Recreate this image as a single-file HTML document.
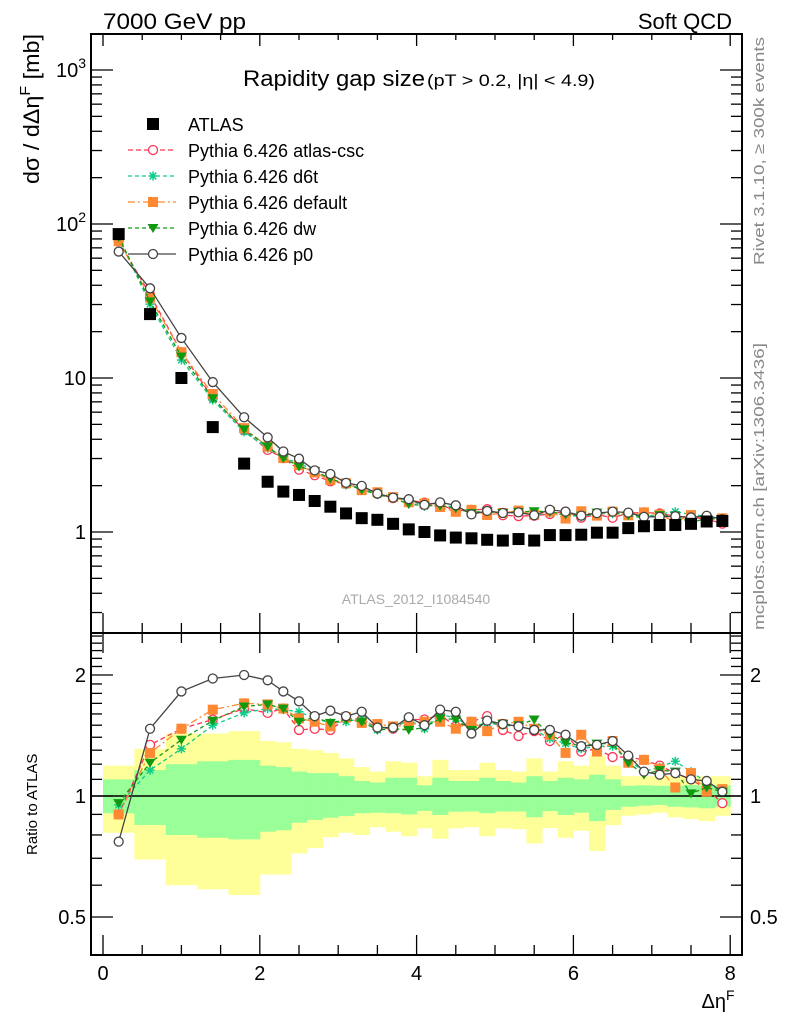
<!DOCTYPE html>
<html><head><meta charset="utf-8"><style>
html,body{margin:0;padding:0;background:#fff;}
svg{display:block;font-family:"Liberation Sans",sans-serif;}
</style></head><body>
<svg id="chart" width="786" height="1024" viewBox="0 0 786 1024" xmlns="http://www.w3.org/2000/svg">
<defs>
<clipPath id="clipMain"><rect x="91" y="34" width="651" height="599"/></clipPath>
<clipPath id="clipRatio"><rect x="91" y="633" width="651" height="322"/></clipPath>
</defs>
<g id="bands" clip-path="url(#clipRatio)"></g>
<line x1="91" y1="796" x2="742" y2="796" stroke="#000" stroke-width="1.5"/>
<g id="series"></g>
<g id="axes"></g>
<rect x="91" y="34" width="651" height="599" fill="none" stroke="#000" stroke-width="2"/>
<rect x="91" y="633" width="651" height="322" fill="none" stroke="#000" stroke-width="2"/>
<text x="103" y="29" font-size="22" textLength="143" lengthAdjust="spacingAndGlyphs">7000 GeV pp</text>
<text x="732" y="29" font-size="22" text-anchor="end">Soft QCD</text>
<text x="243" y="86" font-size="22" textLength="182" lengthAdjust="spacingAndGlyphs">Rapidity gap size</text>
<text x="427" y="86" font-size="17" textLength="168" lengthAdjust="spacingAndGlyphs">(pT &gt; 0.2, |η| &lt; 4.9)</text>
<text transform="translate(39,184) rotate(-90)" font-size="22" textLength="150" lengthAdjust="spacingAndGlyphs">dσ / dΔη<tspan font-size="15" dy="-9">F</tspan><tspan dy="9"> [mb]</tspan></text>
<text transform="translate(37,855) rotate(-90)" font-size="15">Ratio to ATLAS</text>
<text transform="translate(764,265) rotate(-90)" font-size="15" fill="#888" textLength="228" lengthAdjust="spacingAndGlyphs">Rivet 3.1.10, ≥ 300k events</text>
<text transform="translate(764,630) rotate(-90)" font-size="15" fill="#888" textLength="287" lengthAdjust="spacingAndGlyphs">mcplots.cern.ch [arXiv:1306.3436]</text>
<text x="416" y="604" font-size="14" fill="#aaa" text-anchor="middle">ATLAS_2012_I1084540</text>
<text x="718" y="1008" font-size="20" text-anchor="middle">Δη<tspan font-size="14" dy="-8">F</tspan></text>
<g id="legend"></g>
</svg>
<script>
// ---- data ----
const xCenters = [0.2,0.6,1.0,1.4,1.8,2.1,2.3,2.5,2.7,2.9,3.1,3.3,3.5,3.7,3.9,4.1,4.3,4.5,4.7,4.9,5.1,5.3,5.5,5.7,5.9,6.1,6.3,6.5,6.7,6.9,7.1,7.3,7.5,7.7,7.9];
const binLo = [0,0.4,0.8,1.2,1.6,2.0,2.2,2.4,2.6,2.8,3.0,3.2,3.4,3.6,3.8,4.0,4.2,4.4,4.6,4.8,5.0,5.2,5.4,5.6,5.8,6.0,6.2,6.4,6.6,6.8,7.0,7.2,7.4,7.6,7.8];
const binHi = [0.4,0.8,1.2,1.6,2.0,2.2,2.4,2.6,2.8,3.0,3.2,3.4,3.6,3.8,4.0,4.2,4.4,4.6,4.8,5.0,5.2,5.4,5.6,5.8,6.0,6.2,6.4,6.6,6.8,7.0,7.2,7.4,7.6,7.8,8.0];
const atlasValues = [86,26,10,4.8,2.78,2.12,1.83,1.74,1.59,1.46,1.32,1.23,1.20,1.13,1.04,1.0,0.95,0.92,0.91,0.89,0.88,0.90,0.88,0.955,0.955,0.96,0.99,0.99,1.06,1.09,1.11,1.11,1.13,1.17,1.18];
const ratioCsc = [0.90,1.34,1.47,1.55,1.65,1.61,1.65,1.46,1.47,1.46,1.56,1.55,1.48,1.47,1.55,1.55,1.59,1.49,1.53,1.58,1.46,1.41,1.45,1.37,1.42,1.29,1.31,1.25,1.25,1.23,1.19,1.14,1.10,1.04,0.96];
const ratioD6t = [0.95,1.16,1.31,1.50,1.61,1.65,1.64,1.62,1.56,1.52,1.53,1.56,1.46,1.47,1.55,1.47,1.60,1.56,1.49,1.52,1.50,1.49,1.46,1.39,1.35,1.31,1.33,1.33,1.23,1.15,1.18,1.22,1.15,1.08,1.025];
const ratioDefault = [0.90,1.28,1.47,1.64,1.70,1.69,1.65,1.56,1.53,1.49,1.57,1.52,1.51,1.49,1.50,1.53,1.53,1.47,1.53,1.45,1.51,1.53,1.47,1.42,1.28,1.42,1.29,1.37,1.21,1.23,1.17,1.05,1.14,1.025,1.04];
const ratioDw = [0.96,1.21,1.38,1.54,1.67,1.69,1.65,1.53,1.57,1.52,1.55,1.53,1.46,1.47,1.46,1.48,1.56,1.55,1.46,1.53,1.51,1.50,1.55,1.42,1.36,1.33,1.35,1.35,1.21,1.13,1.16,1.15,1.015,1.05,1.025];
const ratioP0 = [0.77,1.47,1.82,1.96,2.0,1.94,1.82,1.72,1.58,1.63,1.58,1.62,1.48,1.48,1.57,1.50,1.64,1.62,1.43,1.54,1.51,1.49,1.46,1.46,1.42,1.33,1.34,1.37,1.26,1.15,1.13,1.14,1.10,1.09,1.025];
const yellowHi = [1.19,1.31,1.43,1.43,1.45,1.37,1.36,1.31,1.30,1.28,1.24,1.18,1.15,1.22,1.21,1.12,1.23,1.16,1.16,1.21,1.16,1.15,1.24,1.15,1.22,1.19,1.26,1.19,1.12,1.12,1.12,1.12,1.12,1.12,1.12];
const yellowLo = [0.81,0.695,0.60,0.586,0.567,0.638,0.638,0.72,0.742,0.79,0.81,0.80,0.836,0.815,0.794,0.831,0.783,0.831,0.836,0.794,0.831,0.827,0.762,0.832,0.787,0.82,0.73,0.846,0.893,0.90,0.909,0.885,0.876,0.866,0.893];
const greenHi = [1.10,1.16,1.20,1.22,1.23,1.19,1.18,1.15,1.14,1.14,1.12,1.09,1.08,1.11,1.11,1.063,1.11,1.09,1.09,1.11,1.09,1.08,1.12,1.09,1.11,1.10,1.13,1.10,1.06,1.063,1.06,1.06,1.065,1.06,1.063];
const greenLo = [0.906,0.847,0.80,0.787,0.78,0.815,0.822,0.858,0.872,0.883,0.892,0.906,0.909,0.906,0.90,0.918,0.897,0.914,0.915,0.906,0.915,0.915,0.885,0.917,0.897,0.909,0.866,0.923,0.94,0.946,0.95,0.94,0.937,0.932,0.94];
const xTicksMajor = [0,2,4,6,8];
const mainTickLabels = ["1","10","10²","10³"];
const mainTickValues = [1,10,100,1000];
const ratioTickValues = [0.5,1,2];
const ratioTickLabels = ["0.5","1","2"];

// ---- scales ----
const X = v => 103 + 78.4*v;
const YM = v => 532 - 154*Math.log10(v);
const YR = r => 796 - 402*Math.log10(r);
const NS = "http://www.w3.org/2000/svg";
function mk(tag, attrs, parent){ const e=document.createElementNS(NS,tag); for(const k in attrs) e.setAttribute(k,attrs[k]); parent.appendChild(e); return e; }

// ---- bands ----
const bands = document.getElementById('bands');
for(let i=0;i<binLo.length;i++){
  const y = mk('rect',{x:X(binLo[i]),y:YR(yellowHi[i]),width:X(binHi[i])-X(binLo[i])+0.5,height:YR(yellowLo[i])-YR(yellowHi[i]),fill:'#ffff99'},bands);
  
  
}
for(let i=0;i<binLo.length;i++){
  const g = mk('rect',{x:X(binLo[i]),y:YR(greenHi[i]),width:X(binHi[i])-X(binLo[i])+0.5,height:YR(greenLo[i])-YR(greenHi[i]),fill:'#99ff99'},bands);
  
  
}

// ---- markers ----
function marker(type,color,cx,cy,parent){
  let e;
  if(type==='sqfill') e=mk('rect',{x:cx-5,y:cy-5,width:10,height:10,fill:color},parent);
  else if(type==='circ') e=mk('circle',{cx:cx,cy:cy,r:4.5,fill:'#fff',stroke:color,'stroke-width':1.3},parent);
  else if(type==='tri') e=mk('path',{d:`M${cx-5.5} ${cy-4}L${cx+5.5} ${cy-4}L${cx} ${cy+5}Z`,fill:color},parent);
  else if(type==='star') e=mk('path',{d:`M${cx-4.5} ${cy}H${cx+4.5}M${cx} ${cy-4.5}V${cy+4.5}M${cx-3.3} ${cy-3.3}L${cx+3.3} ${cy+3.3}M${cx-3.3} ${cy+3.3}L${cx+3.3} ${cy-3.3}`,stroke:color,'stroke-width':1.5,fill:'none'},parent);
  else if(type==='atlas') e=mk('rect',{x:cx-6,y:cy-6,width:12,height:12,fill:color},parent);
  return e;
}
const seriesG = document.getElementById('series');
const mcSeries = [
  {name:'atlas-csc',ratio:ratioCsc,color:'#ff3355',m:'circ',dash:'5,3'},
  {name:'d6t',ratio:ratioD6t,color:'#11cc88',m:'star',dash:'4,3'},
  {name:'default',ratio:ratioDefault,color:'#ff8833',m:'sqfill',dash:'7,3,2,3'},
  {name:'dw',ratio:ratioDw,color:'#119911',m:'tri',dash:'4,3'},
  {name:'p0',ratio:ratioP0,color:'#444444',m:'circ',dash:''}
];
mcSeries.forEach(s=>{
  const gm = mk('g',{'clip-path':'url(#clipMain)'},seriesG);
  
  
  const gr = mk('g',{'clip-path':'url(#clipRatio)'},seriesG);
  
  
  const pm = xCenters.map((x,i)=>X(x)+','+YM(atlasValues[i]*s.ratio[i])).join(' ');
  const pr = xCenters.map((x,i)=>X(x)+','+YR(s.ratio[i])).join(' ');
  const lm = mk('polyline',{points:pm,fill:'none',stroke:s.color,'stroke-width':1.3,'stroke-dasharray':s.dash},gm);
  
  
  const lr = mk('polyline',{points:pr,fill:'none',stroke:s.color,'stroke-width':1.3,'stroke-dasharray':s.dash},gr);
  
  
  xCenters.forEach((x,i)=>{
    const a = marker(s.m,s.color,X(x),YM(atlasValues[i]*s.ratio[i]),gm);
    
    
    const b = marker(s.m,s.color,X(x),YR(s.ratio[i]),gr);
    
    
  });
});
const ga = mk('g',{'clip-path':'url(#clipMain)'},seriesG);


xCenters.forEach((x,i)=>{
  const a = marker('atlas','#000',X(x),YM(atlasValues[i]),ga);
  
  
});

// ---- axes ----
const ax = document.getElementById('axes');
function tick(x1,y1,x2,y2){ const t=mk('line',{x1,y1,x2,y2,stroke:'#000','stroke-width':1.3},ax);   }
for(let v=0; v<=8.001; v+=0.5){
  const major = xTicksMajor.some(m=>Math.abs(m-v)<1e-6);
  const L = major?20:10, x=X(v);
  tick(x,633,x,633-L); tick(x,34,x,34+L*0.6);
  tick(x,955,x,955-L); tick(x,633,x,633+L);
}
xTicksMajor.forEach(v=>{
  const t=mk('text',{x:X(v),y:980,'font-size':20,'text-anchor':'middle'},ax); t.textContent=v;
  
  
});
for(let d=0.1; d<2000; d*=10){
  for(let k=1;k<10;k++){
    const v=d*k, y=YM(v);
    if(y<34||y>633) continue;
    const L = k===1?22:11;
    tick(91,y,91+L,y); tick(742,y,742-L,y);
  }
}
mainTickValues.forEach((v,i)=>{
  const t=mk('text',{x:86,y:YM(v)+7,'font-size':20,'text-anchor':'end'},ax);
  const lab = mainTickLabels[i];
  if(lab.length>2 && lab.startsWith('10')){ t.textContent='10'; const s=mk('tspan',{'font-size':14,dy:-9},t); s.textContent=lab.slice(2)==='²'?'2':'3'; }
  else t.textContent=lab;
  
  
});
for(let k=5;k<=25;k++){
  const v=k/10, y=YR(v);
  if(y<633||y>955) continue;
  const major = ratioTickValues.includes(v);
  const L = major?22:11;
  tick(91,y,91+L,y); tick(742,y,742-L,y);
}
ratioTickValues.forEach((v,i)=>{
  const t=mk('text',{x:86,y:YR(v)+7,'font-size':20,'text-anchor':'end'},ax); t.textContent=ratioTickLabels[i];
  
  
  const t2=mk('text',{x:750,y:YR(v)+7,'font-size':20},ax); t2.textContent=ratioTickLabels[i];
  
  
});

// ---- legend ----
const lg = document.getElementById('legend');
const legendLabels = ['ATLAS','Pythia 6.426 atlas-csc','Pythia 6.426 d6t','Pythia 6.426 default','Pythia 6.426 dw','Pythia 6.426 p0'];
legendLabels.forEach((lab,i)=>{
  const y = 124 + 26*i;
  const g = mk('g',{},lg);
  
  
  if(i===0){ marker('atlas','#000',153,y,g); }
  else {
    const s = mcSeries[i-1];
    mk('line',{x1:128,y1:y,x2:176,y2:y,stroke:s.color,'stroke-width':1.3,'stroke-dasharray':s.dash},g);
    marker(s.m,s.color,153,y,g);
  }
  const t = mk('text',{x:188,y:y+7,'font-size':18},g); t.textContent=lab;
});
</script>
</body></html>
